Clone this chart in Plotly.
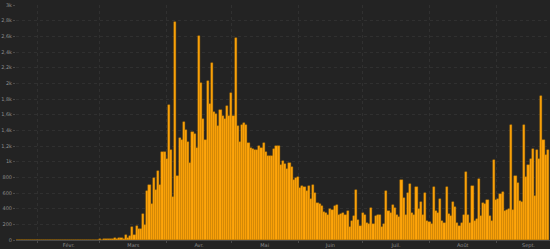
import plotly.graph_objects as go
import pandas as pd

start_date = "2020-01-22"

# Jan 22 - Feb 29 (39 days)
vals_jan_feb = [0, 0, 1, 0, 0, 2, 0, 1, 0, 0,
                1, 0, 2, 0, 1, 0, 0, 1, 2, 0,
                1, 0, 0, 2, 1, 0, 1, 3, 1, 0,
                2, 1, 0, 3, 2, 1, 4, 2, 3]
# Mar 1 - Mar 10
vals_mar_early = [8, 6, 12, 10, 15, 9, 18, 20, 14, 22]
# Mar 11 - May 30
vals_spring = [30, 10, 70, 25, 55, 164, 58, 177, 138, 138,
               330, 190, 620, 697, 463, 787, 633, 885, 706,
               1124, 1119, 1034, 1720, 1149, 544, 2778, 812, 1307, 1273,
               1512, 1401, 1256, 983, 1375, 1354, 1175, 2603, 2006, 1541,
               1273, 2028, 1742, 2258, 1631, 1614, 1452, 1657, 1580, 1541,
               1712, 1580, 1883, 1580, 2578,
               1452, 1256, 1469, 1499, 1469, 1243, 1171, 1162, 1145, 1149,
               1205, 1179, 1243, 1124, 1072, 1077, 1077, 1162, 1200, 1205,
               957, 1008, 970, 902, 987, 931, 770]
# May 31 - Sep 25
vals_summer = [795, 804, 667, 684, 676, 625, 684, 522, 697, 595,
               471, 454, 428, 356, 343, 318, 399, 386, 428, 441,
               313, 335, 343, 313, 369, 160, 241, 309, 633, 258,
               181, 348, 313, 215, 203, 412, 198, 301, 322, 322,
               160, 198, 629, 365, 339, 441, 407, 313, 288, 770,
               531, 313, 599, 710, 348, 318, 680, 394, 484, 313,
               603, 241, 232, 206, 680, 373, 348, 518, 241, 215,
               680, 335, 301, 484, 420, 215, 177, 215, 318, 863,
               322, 215, 693, 241, 266, 774, 305, 475, 463, 505,
               301, 249, 1025, 510, 522, 582, 616, 373, 386, 399,
               1465, 377, 817, 722, 492, 480, 1465, 804, 953, 1029,
               1166, 556, 1145, 1034, 1834, 1273, 1081, 1145]

values = vals_jan_feb + vals_mar_early + vals_spring + vals_summer
dates = pd.date_range(start_date, periods=len(values), freq="D")

y_tickvals = list(range(0, 3001, 200))
y_ticktext = ["0", "200", "400", "600", "800", "1k", "1,2k", "1,4k", "1,6k",
              "1,8k", "2k", "2,2k", "2,4k", "2,6k", "2,8k", "3k"]

month_label_dates = ["2020-02-15 12:00", "2020-03-16 12:00", "2020-04-16",
                     "2020-05-16 12:00", "2020-06-16", "2020-07-16 12:00",
                     "2020-08-16 12:00", "2020-09-16"]
month_labels = ["Févr.", "Mars", "Avr.", "Mai", "Juin", "Juil.", "Août", "Sept."]

bg = "#232323"
grid = "#303030"
txt = "#8c8c8c"

fig = go.Figure(go.Bar(
    x=dates, y=values,
    marker=dict(color="#FFA50A", line=dict(color="#c98300", width=0.4)),
    hoverinfo="x+y",
))

fig.update_layout(
    width=550, height=249,
    margin=dict(l=16, r=0, t=5, b=9),
    paper_bgcolor=bg, plot_bgcolor=bg,
    bargap=0,
    showlegend=False,
    font=dict(family="DejaVu Sans", size=5, color=txt),
)
fig.update_xaxes(
    type="date",
    range=["2020-01-22", "2020-09-26"],
    tickmode="array", tickvals=month_label_dates, ticktext=month_labels,
    ticks="", showgrid=False,
    tickfont=dict(size=5, color=txt),
    ticklabelstandoff=0,
    minor=dict(dtick="M1", tick0="2020-01-01", showgrid=True,
               gridcolor=grid, griddash="dot", gridwidth=1,
               ticks="outside", ticklen=2, tickcolor="#4a4a4a"),
    showline=True, linecolor="#4a4a4a", linewidth=1,
    zeroline=False,
)
fig.update_yaxes(
    range=[0, 3000],
    tickmode="array", tickvals=y_tickvals, ticktext=y_ticktext,
    showgrid=True, gridcolor=grid, griddash="dot", gridwidth=1,
    ticks="outside", ticklen=2, tickcolor="#4a4a4a",
    tickfont=dict(size=5, color=txt),
    zeroline=False,
)

fig.write_html("out.html")
